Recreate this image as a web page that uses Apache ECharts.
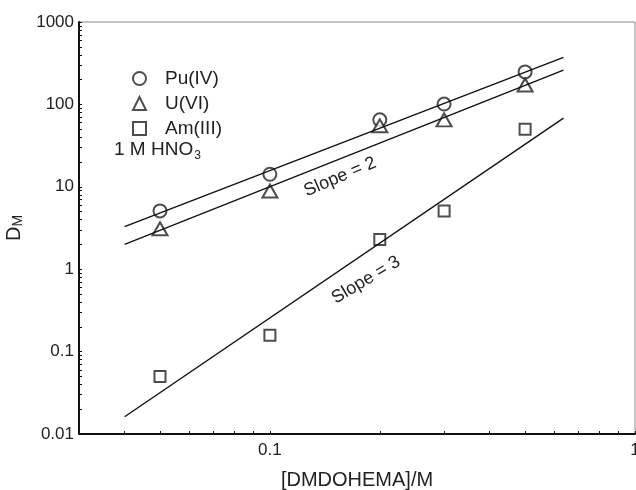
<!DOCTYPE html>
<html>
<head>
<meta charset="utf-8">
<script src="https://cdn.jsdelivr.net/npm/echarts@6/dist/echarts.min.js"></script>
<style>
  html, body { margin: 0; padding: 0; background: #fff; }
  #chart { width: 636px; height: 490px; }
</style>
</head>
<body>
<div id="chart"></div>
<script>
// [DMDOHEMA]/M
var conc = [0.05, 0.1, 0.2, 0.3, 0.5]
var puD = [5.1, 14.2, 65, 101, 248]
var uD = [3.1, 8.9, 55, 65, 172]
var amD = [0.05, 0.158, 2.3, 5.1, 50]

// fitted lines, end points
var fitX = [0.04, 0.637]
var puFit = [3.28, 372]
var uFit = [2.0, 261]
var amFit = [0.0162, 68]

var xLabels = [0.1, 1]
var yLabels = [0.01, 0.1, 1, 10, 100, 1000]
var xTicks = [0.03, 0.04, 0.05, 0.06, 0.07, 0.08, 0.09, 0.1, 0.2, 0.3, 0.4, 0.5, 0.6, 0.7, 0.8, 0.9, 1]
var yTicks = []
yLabels.forEach(function (d) {
  for (var k = 1; k <= 9; k++) {
    if (d * k <= 1000) yTicks.push(d * k)
  }
})

function pairs(xs, ys) {
  return xs.map(function (x, i) { return [x, ys[i]] })
}
function fmt(v) {
  return String(Number(v.toPrecision(6)))
}

var chart = echarts.init(document.getElementById('chart'))
var font = 'Liberation Sans, Arial, sans-serif'

var option = {
  animation: false,
  textStyle: { fontFamily: font },
  grid: {
    left: 79,
    top: 22,
    right: 1,
    bottom: 56,
    outerBoundsMode: 'none',
    containLabel: false,
    show: true,
    borderColor: '#888',
    borderWidth: 1
  },
  legend: {
    orient: 'vertical',
    left: 127,
    top: 64,
    itemWidth: 13,
    itemHeight: 13,
    itemGap: 6,
    textStyle: { fontSize: 19, color: '#222', lineHeight: 19, padding: [0, 0, 0, 14] },
    data: ['Pu(IV)', 'U(VI)', 'Am(III)']
  },
  xAxis: {
    type: 'log',
    logBase: 10,
    min: 0.03,
    max: 1,
    name: '[DMDOHEMA]/M',
    nameLocation: 'middle',
    nameGap: 36,
    nameTextStyle: { fontSize: 20, color: '#222' },
    axisLine: { lineStyle: { color: '#111', width: 2 } },
    axisTick: { inside: true, length: 3, customValues: xTicks, lineStyle: { color: '#111' } },
    axisLabel: { customValues: xLabels, fontSize: 17, color: '#222', margin: 8, formatter: fmt },
    splitLine: { show: false }
  },
  yAxis: {
    type: 'log',
    logBase: 10,
    min: 0.01,
    max: 1000,
    name: '{d|D}{m|M}',
    nameLocation: 'middle',
    nameRotate: 90,
    nameGap: 50,
    nameTextStyle: {
      rich: {
        d: { fontSize: 20, color: '#222', fontFamily: font },
        m: { fontSize: 14, color: '#222', fontFamily: font, verticalAlign: 'bottom', padding: [8, 0, 0, 0] }
      }
    },
    axisLine: { lineStyle: { color: '#111', width: 2 } },
    axisTick: { inside: true, length: 3, customValues: yTicks, lineStyle: { color: '#111' } },
    axisLabel: { customValues: yLabels, fontSize: 17, color: '#222', margin: 5, formatter: fmt },
    splitLine: { show: false }
  },
  series: [
    {
      name: 'Pu(IV)',
      type: 'scatter',
      symbol: 'emptyCircle',
      symbolSize: 13,
      itemStyle: { color: '#222', borderWidth: 1.2 },
      data: pairs(conc, puD)
    },
    {
      name: 'U(VI)',
      type: 'scatter',
      symbol: 'emptyTriangle',
      symbolSize: [15, 13],
      itemStyle: { color: '#222', borderWidth: 1.2 },
      data: pairs(conc, uD)
    },
    {
      name: 'Am(III)',
      type: 'scatter',
      symbol: 'emptyRect',
      symbolSize: 11,
      itemStyle: { color: '#222', borderWidth: 1.2 },
      data: pairs(conc, amD)
    },
    {
      type: 'line',
      showSymbol: false,
      lineStyle: { color: '#111', width: 1.4 },
      data: pairs(fitX, puFit)
    },
    {
      type: 'line',
      showSymbol: false,
      lineStyle: { color: '#111', width: 1.4 },
      data: pairs(fitX, uFit)
    },
    {
      type: 'line',
      showSymbol: false,
      lineStyle: { color: '#111', width: 1.4 },
      data: pairs(fitX, amFit)
    }
  ],
  graphic: [
    {
      type: 'text',
      left: 114,
      top: 140,
      style: {
        text: '1 M HNO{s|3}',
        fontSize: 19,
        fontFamily: font,
        fill: '#222',
        rich: { s: { fontSize: 12, fontFamily: font, fill: '#222', padding: [12, 0, 0, 1] } }
      }
    },
    {
      type: 'text',
      x: 340,
      y: 177,
      rotation: 23 * Math.PI / 180,
      style: { text: 'Slope = 2', fontSize: 18, fontFamily: font, fill: '#222', align: 'center', verticalAlign: 'middle' }
    },
    {
      type: 'text',
      x: 366,
      y: 280,
      rotation: 31 * Math.PI / 180,
      style: { text: 'Slope = 3', fontSize: 18, fontFamily: font, fill: '#222', align: 'center', verticalAlign: 'middle' }
    }
  ]
}

chart.setOption(option)
</script>
</body>
</html>
